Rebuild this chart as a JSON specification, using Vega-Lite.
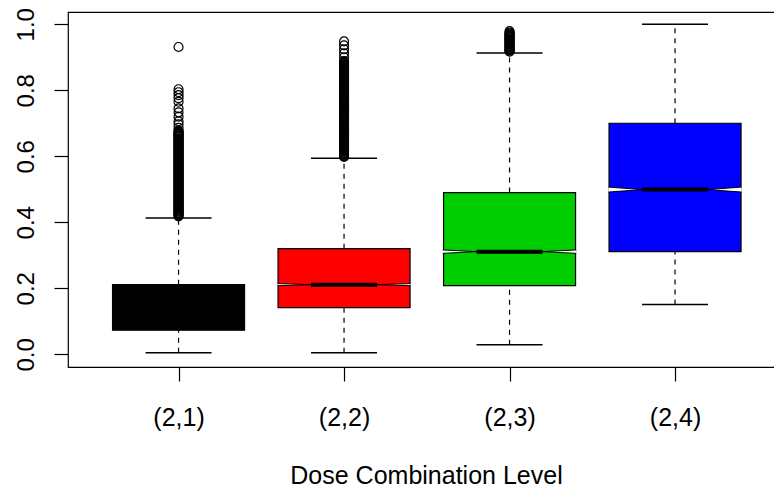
{
  "$schema": "https://vega.github.io/schema/vega-lite/v6.json",
  "width": 707,
  "height": 355,
  "autosize": {"type": "none"},
  "padding": {"left": 68, "top": 12, "right": -1, "bottom": 125},
  "background": "white",
  "config": {
    "font": "Liberation Sans",
    "view": {"stroke": "#000000", "strokeWidth": 1.2},
    "axis": {
      "domain": false,
      "tickColor": "#000000", "tickWidth": 1.2, "tickSize": 14,
      "labelColor": "#000000", "labelFont": "Liberation Sans",
      "titleFont": "Liberation Sans", "titleColor": "#000000", "titleFontWeight": "normal",
      "grid": false, "labelFlush": false, "labelOverlap": false
    },
    "axisY": {
      "labelAngle": -90, "labelAlign": "center", "labelBaseline": "alphabetic",
      "labelPadding": 21, "labelFontSize": 24
    }
  },
  "datasets": {
    "boxes": [
      {"group": "(2,1)", "pos": 1, "lo": 0.005, "q1": 0.073, "med": 0.135, "q3": 0.211, "hi": 0.413},
      {"group": "(2,2)", "pos": 2, "lo": 0.005, "q1": 0.1415, "med": 0.211, "q3": 0.32, "hi": 0.594},
      {"group": "(2,3)", "pos": 3, "lo": 0.029, "q1": 0.208, "med": 0.311, "q3": 0.49, "hi": 0.913},
      {"group": "(2,4)", "pos": 4, "lo": 0.151, "q1": 0.311, "med": 0.499, "q3": 0.7, "hi": 1.0}
    ],
    "outliers": [
      {"pos": 1, "value": 0.418}, {"pos": 1, "value": 0.423}, {"pos": 1, "value": 0.427}, {"pos": 1, "value": 0.433},
      {"pos": 1, "value": 0.438}, {"pos": 1, "value": 0.442}, {"pos": 1, "value": 0.448}, {"pos": 1, "value": 0.453},
      {"pos": 1, "value": 0.457}, {"pos": 1, "value": 0.463}, {"pos": 1, "value": 0.468}, {"pos": 1, "value": 0.472},
      {"pos": 1, "value": 0.478}, {"pos": 1, "value": 0.483}, {"pos": 1, "value": 0.487}, {"pos": 1, "value": 0.493},
      {"pos": 1, "value": 0.498}, {"pos": 1, "value": 0.502}, {"pos": 1, "value": 0.508}, {"pos": 1, "value": 0.513},
      {"pos": 1, "value": 0.517}, {"pos": 1, "value": 0.523}, {"pos": 1, "value": 0.528}, {"pos": 1, "value": 0.532},
      {"pos": 1, "value": 0.538}, {"pos": 1, "value": 0.543}, {"pos": 1, "value": 0.547}, {"pos": 1, "value": 0.553},
      {"pos": 1, "value": 0.558}, {"pos": 1, "value": 0.562}, {"pos": 1, "value": 0.568}, {"pos": 1, "value": 0.573},
      {"pos": 1, "value": 0.577}, {"pos": 1, "value": 0.583}, {"pos": 1, "value": 0.588}, {"pos": 1, "value": 0.592},
      {"pos": 1, "value": 0.598}, {"pos": 1, "value": 0.603}, {"pos": 1, "value": 0.607}, {"pos": 1, "value": 0.613},
      {"pos": 1, "value": 0.618}, {"pos": 1, "value": 0.622}, {"pos": 1, "value": 0.628}, {"pos": 1, "value": 0.633},
      {"pos": 1, "value": 0.637}, {"pos": 1, "value": 0.643}, {"pos": 1, "value": 0.648}, {"pos": 1, "value": 0.652},
      {"pos": 1, "value": 0.658}, {"pos": 1, "value": 0.663}, {"pos": 1, "value": 0.667}, {"pos": 1, "value": 0.673},
      {"pos": 1, "value": 0.678},
      {"pos": 1, "value": 0.4205}, {"pos": 1, "value": 0.4255}, {"pos": 1, "value": 0.4295}, {"pos": 1, "value": 0.4355},
      {"pos": 1, "value": 0.4405}, {"pos": 1, "value": 0.4445}, {"pos": 1, "value": 0.4505}, {"pos": 1, "value": 0.4555},
      {"pos": 1, "value": 0.4595}, {"pos": 1, "value": 0.4655}, {"pos": 1, "value": 0.4705}, {"pos": 1, "value": 0.4745},
      {"pos": 1, "value": 0.4805}, {"pos": 1, "value": 0.4855}, {"pos": 1, "value": 0.4895}, {"pos": 1, "value": 0.4955},
      {"pos": 1, "value": 0.5005}, {"pos": 1, "value": 0.5045}, {"pos": 1, "value": 0.5105}, {"pos": 1, "value": 0.5155},
      {"pos": 1, "value": 0.5195}, {"pos": 1, "value": 0.5255}, {"pos": 1, "value": 0.5305}, {"pos": 1, "value": 0.5345},
      {"pos": 1, "value": 0.5405}, {"pos": 1, "value": 0.5455}, {"pos": 1, "value": 0.5495}, {"pos": 1, "value": 0.5555},
      {"pos": 1, "value": 0.5605}, {"pos": 1, "value": 0.5645}, {"pos": 1, "value": 0.5705}, {"pos": 1, "value": 0.5755},
      {"pos": 1, "value": 0.5795}, {"pos": 1, "value": 0.5855}, {"pos": 1, "value": 0.5905}, {"pos": 1, "value": 0.5945},
      {"pos": 1, "value": 0.6005}, {"pos": 1, "value": 0.6055}, {"pos": 1, "value": 0.6095}, {"pos": 1, "value": 0.6155},
      {"pos": 1, "value": 0.6205}, {"pos": 1, "value": 0.6245}, {"pos": 1, "value": 0.6305}, {"pos": 1, "value": 0.6355},
      {"pos": 1, "value": 0.6395}, {"pos": 1, "value": 0.6455}, {"pos": 1, "value": 0.6505}, {"pos": 1, "value": 0.6545},
      {"pos": 1, "value": 0.6605}, {"pos": 1, "value": 0.6655}, {"pos": 1, "value": 0.6695}, {"pos": 1, "value": 0.6755},
      {"pos": 1, "value": 0.686}, {"pos": 1, "value": 0.697}, {"pos": 1, "value": 0.706},
      {"pos": 1, "value": 0.72}, {"pos": 1, "value": 0.733}, {"pos": 1, "value": 0.745}, {"pos": 1, "value": 0.765},
      {"pos": 1, "value": 0.776}, {"pos": 1, "value": 0.785}, {"pos": 1, "value": 0.794}, {"pos": 1, "value": 0.803},
      {"pos": 1, "value": 0.931},
      {"pos": 2, "value": 0.598}, {"pos": 2, "value": 0.603}, {"pos": 2, "value": 0.607}, {"pos": 2, "value": 0.613},
      {"pos": 2, "value": 0.618}, {"pos": 2, "value": 0.622}, {"pos": 2, "value": 0.628}, {"pos": 2, "value": 0.633},
      {"pos": 2, "value": 0.637}, {"pos": 2, "value": 0.643}, {"pos": 2, "value": 0.648}, {"pos": 2, "value": 0.652},
      {"pos": 2, "value": 0.658}, {"pos": 2, "value": 0.663}, {"pos": 2, "value": 0.667}, {"pos": 2, "value": 0.673},
      {"pos": 2, "value": 0.678}, {"pos": 2, "value": 0.682}, {"pos": 2, "value": 0.688}, {"pos": 2, "value": 0.693},
      {"pos": 2, "value": 0.697}, {"pos": 2, "value": 0.703}, {"pos": 2, "value": 0.708}, {"pos": 2, "value": 0.712},
      {"pos": 2, "value": 0.718}, {"pos": 2, "value": 0.723}, {"pos": 2, "value": 0.727}, {"pos": 2, "value": 0.733},
      {"pos": 2, "value": 0.738}, {"pos": 2, "value": 0.742}, {"pos": 2, "value": 0.748}, {"pos": 2, "value": 0.753},
      {"pos": 2, "value": 0.757}, {"pos": 2, "value": 0.763}, {"pos": 2, "value": 0.768}, {"pos": 2, "value": 0.772},
      {"pos": 2, "value": 0.778}, {"pos": 2, "value": 0.783}, {"pos": 2, "value": 0.787}, {"pos": 2, "value": 0.793},
      {"pos": 2, "value": 0.798}, {"pos": 2, "value": 0.802}, {"pos": 2, "value": 0.808}, {"pos": 2, "value": 0.813},
      {"pos": 2, "value": 0.817}, {"pos": 2, "value": 0.823}, {"pos": 2, "value": 0.828}, {"pos": 2, "value": 0.832},
      {"pos": 2, "value": 0.838}, {"pos": 2, "value": 0.843}, {"pos": 2, "value": 0.847}, {"pos": 2, "value": 0.853},
      {"pos": 2, "value": 0.858}, {"pos": 2, "value": 0.862}, {"pos": 2, "value": 0.868}, {"pos": 2, "value": 0.873},
      {"pos": 2, "value": 0.877}, {"pos": 2, "value": 0.883}, {"pos": 2, "value": 0.888},
      {"pos": 2, "value": 0.6005}, {"pos": 2, "value": 0.6055}, {"pos": 2, "value": 0.6095}, {"pos": 2, "value": 0.6155},
      {"pos": 2, "value": 0.6205}, {"pos": 2, "value": 0.6245}, {"pos": 2, "value": 0.6305}, {"pos": 2, "value": 0.6355},
      {"pos": 2, "value": 0.6395}, {"pos": 2, "value": 0.6455}, {"pos": 2, "value": 0.6505}, {"pos": 2, "value": 0.6545},
      {"pos": 2, "value": 0.6605}, {"pos": 2, "value": 0.6655}, {"pos": 2, "value": 0.6695}, {"pos": 2, "value": 0.6755},
      {"pos": 2, "value": 0.6805}, {"pos": 2, "value": 0.6845}, {"pos": 2, "value": 0.6905}, {"pos": 2, "value": 0.6955},
      {"pos": 2, "value": 0.6995}, {"pos": 2, "value": 0.7055}, {"pos": 2, "value": 0.7105}, {"pos": 2, "value": 0.7145},
      {"pos": 2, "value": 0.7205}, {"pos": 2, "value": 0.7255}, {"pos": 2, "value": 0.7295}, {"pos": 2, "value": 0.7355},
      {"pos": 2, "value": 0.7405}, {"pos": 2, "value": 0.7445}, {"pos": 2, "value": 0.7505}, {"pos": 2, "value": 0.7555},
      {"pos": 2, "value": 0.7595}, {"pos": 2, "value": 0.7655}, {"pos": 2, "value": 0.7705}, {"pos": 2, "value": 0.7745},
      {"pos": 2, "value": 0.7805}, {"pos": 2, "value": 0.7855}, {"pos": 2, "value": 0.7895}, {"pos": 2, "value": 0.7955},
      {"pos": 2, "value": 0.8005}, {"pos": 2, "value": 0.8045}, {"pos": 2, "value": 0.8105}, {"pos": 2, "value": 0.8155},
      {"pos": 2, "value": 0.8195}, {"pos": 2, "value": 0.8255}, {"pos": 2, "value": 0.8305}, {"pos": 2, "value": 0.8345},
      {"pos": 2, "value": 0.8405}, {"pos": 2, "value": 0.8455}, {"pos": 2, "value": 0.8495}, {"pos": 2, "value": 0.8555},
      {"pos": 2, "value": 0.8605}, {"pos": 2, "value": 0.8645}, {"pos": 2, "value": 0.8705}, {"pos": 2, "value": 0.8755},
      {"pos": 2, "value": 0.8795}, {"pos": 2, "value": 0.8855},
      {"pos": 2, "value": 0.9}, {"pos": 2, "value": 0.912}, {"pos": 2, "value": 0.924}, {"pos": 2, "value": 0.936},
      {"pos": 2, "value": 0.948},
      {"pos": 3, "value": 0.917}, {"pos": 3, "value": 0.922}, {"pos": 3, "value": 0.926}, {"pos": 3, "value": 0.932},
      {"pos": 3, "value": 0.937}, {"pos": 3, "value": 0.941}, {"pos": 3, "value": 0.947}, {"pos": 3, "value": 0.952},
      {"pos": 3, "value": 0.956}, {"pos": 3, "value": 0.962}, {"pos": 3, "value": 0.967}, {"pos": 3, "value": 0.972},
      {"pos": 3, "value": 0.9195}, {"pos": 3, "value": 0.9245}, {"pos": 3, "value": 0.9295}, {"pos": 3, "value": 0.9345},
      {"pos": 3, "value": 0.9395}, {"pos": 3, "value": 0.9445}, {"pos": 3, "value": 0.9495}, {"pos": 3, "value": 0.9545},
      {"pos": 3, "value": 0.9595}, {"pos": 3, "value": 0.9645}, {"pos": 3, "value": 0.9695}, {"pos": 3, "value": 0.9745},
      {"pos": 3, "value": 0.979}
    ]
  },
  "encoding": {
    "x": {
      "field": "pos", "type": "quantitative",
      "scale": {"domain": [0.332, 4.604], "nice": false, "zero": false, "padding": 0},
      "axis": {
        "values": [1, 2, 3, 4],
        "labelExpr": "'(2,' + datum.value + ')'",
        "labelFontSize": 25, "labelAlign": "center", "labelBaseline": "alphabetic", "labelPadding": 44,
        "title": "Dose Combination Level", "titleFontSize": 25,
        "titleBaseline": "alphabetic", "titleAlign": "center", "titleX": 358, "titleY": 116
      }
    }
  },
  "layer": [
    {
      "data": {"name": "boxes"},
      "mark": {"type": "rule", "color": "#000000", "strokeWidth": 1.2, "strokeDash": [5, 5]},
      "encoding": {
        "y": {"field": "q3", "type": "quantitative", "scale": {"domain": [-0.0385, 1.037], "nice": false, "zero": false},
              "axis": {"values": [0, 0.2, 0.4, 0.6, 0.8, 1.0], "format": ".1f", "title": null}},
        "y2": {"field": "hi"}
      }
    },
    {
      "data": {"name": "boxes"},
      "mark": {"type": "rule", "color": "#000000", "strokeWidth": 1.2, "strokeDash": [5, 5]},
      "encoding": {
        "y": {"field": "lo", "type": "quantitative", "scale": {"domain": [-0.0385, 1.037], "nice": false, "zero": false},
              "axis": {"values": [0, 0.2, 0.4, 0.6, 0.8, 1.0], "format": ".1f", "title": null}},
        "y2": {"field": "q1"}
      }
    },
    {
      "data": {"name": "boxes"},
      "mark": {"type": "tick", "orient": "horizontal", "size": 66, "thickness": 1.5, "color": "#000000", "opacity": 1},
      "encoding": {
        "y": {"field": "hi", "type": "quantitative", "scale": {"domain": [-0.0385, 1.037], "nice": false, "zero": false},
              "axis": {"values": [0, 0.2, 0.4, 0.6, 0.8, 1.0], "format": ".1f", "title": null}}
      }
    },
    {
      "data": {"name": "boxes"},
      "mark": {"type": "tick", "orient": "horizontal", "size": 66, "thickness": 1.5, "color": "#000000", "opacity": 1},
      "encoding": {
        "y": {"field": "lo", "type": "quantitative", "scale": {"domain": [-0.0385, 1.037], "nice": false, "zero": false},
              "axis": {"values": [0, 0.2, 0.4, 0.6, 0.8, 1.0], "format": ".1f", "title": null}}
      }
    },
    {
      "data": {"name": "boxes"},
      "mark": {"type": "bar", "width": 132, "stroke": "#000000", "strokeWidth": 1.2, "opacity": 1},
      "encoding": {
        "y": {"field": "q1", "type": "quantitative", "scale": {"domain": [-0.0385, 1.037], "nice": false, "zero": false},
              "axis": {"values": [0, 0.2, 0.4, 0.6, 0.8, 1.0], "format": ".1f", "title": null}},
        "y2": {"field": "q3"},
        "fill": {
          "field": "group", "type": "nominal",
          "scale": {"domain": ["(2,1)", "(2,2)", "(2,3)", "(2,4)"], "range": ["#000000", "#FF0000", "#00CD00", "#0000FF"]},
          "legend": null
        }
      }
    },
    {
      "data": {"name": "boxes"},
      "transform": [{"filter": "datum.pos > 1"}],
      "mark": {"type": "point", "filled": true, "fill": "#FFFFFF", "stroke": "#000000", "strokeWidth": 1, "size": 17424, "opacity": 1, "fillOpacity": 1},
      "encoding": {
        "y": {"field": "med", "type": "quantitative", "scale": {"domain": [-0.0385, 1.037], "nice": false, "zero": false},
              "axis": {"values": [0, 0.2, 0.4, 0.6, 0.8, 1.0], "format": ".1f", "title": null}},
        "shape": {
          "field": "group", "type": "nominal",
          "scale": {
            "domain": ["(2,2)", "(2,3)", "(2,4)"],
            "range": [
              "M-1.01,-0.016L-0.5,0L-1.01,0.016M1.01,-0.016L0.5,0L1.01,0.016",
              "M-1.01,-0.026L-0.5,0L-1.01,0.026M1.01,-0.026L0.5,0L1.01,0.026",
              "M-1.01,-0.038L-0.5,0L-1.01,0.038M1.01,-0.038L0.5,0L1.01,0.038"
            ]
          },
          "legend": null
        }
      }
    },
    {
      "data": {"name": "boxes"},
      "mark": {"type": "tick", "orient": "horizontal", "size": 66, "thickness": 4, "color": "#000000", "opacity": 1},
      "encoding": {
        "y": {"field": "med", "type": "quantitative", "scale": {"domain": [-0.0385, 1.037], "nice": false, "zero": false},
              "axis": {"values": [0, 0.2, 0.4, 0.6, 0.8, 1.0], "format": ".1f", "title": null}}
      }
    },
    {
      "data": {"name": "outliers"},
      "mark": {"type": "point", "shape": "circle", "filled": false, "stroke": "#000000", "strokeWidth": 1.2, "size": 80, "opacity": 1},
      "encoding": {
        "y": {"field": "value", "type": "quantitative", "scale": {"domain": [-0.0385, 1.037], "nice": false, "zero": false},
              "axis": {"values": [0, 0.2, 0.4, 0.6, 0.8, 1.0], "format": ".1f", "title": null}}
      }
    }
  ]
}
